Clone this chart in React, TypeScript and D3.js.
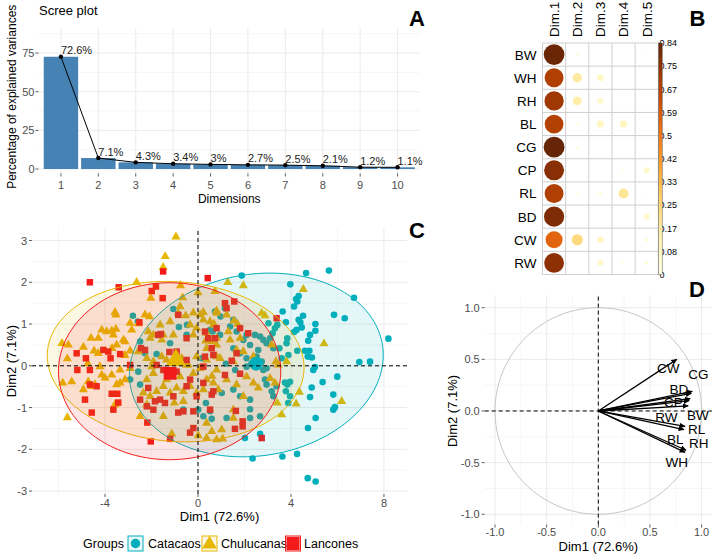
import React from 'react';
import * as d3 from 'd3';

const FONT = '"Liberation Sans", Arial, Helvetica, sans-serif';
const AXIS_TEXT = '#4D4D4D';
const TICK = '#333333';
const GRID_MAJOR = '#EBEBEB';
const GRID_MINOR = '#F4F4F4';

// ---------- Scree plot: explained variance per dimension ----------
const screeDims = [1, 2, 3, 4, 5, 6, 7, 8, 9, 10];
const screeValues = [72.6, 7.1, 4.3, 3.4, 3, 2.7, 2.5, 2.1, 1.2, 1.1];
const screeYTicks = [0, 25, 50, 75];
const screeYMinor = [12.5, 37.5, 62.5, 87.5];

// ---------- cos2 of variables on the first five dimensions ----------
const varNames = ['BW', 'WH', 'RH', 'BL', 'CG', 'CP', 'RL', 'BD', 'CW', 'RW'];
const dimNames = ['Dim.1', 'Dim.2', 'Dim.3', 'Dim.4', 'Dim.5'];
const cos2Dim1 = [0.83, 0.69, 0.72, 0.68, 0.84, 0.77, 0.69, 0.79, 0.56, 0.76];
const cos2Dim2 = [0.02, 0.17, 0.15, 0.012, 0.02, 0.006, 0.01, 0.006, 0.24, 0.004];
const cos2Dim3 = [0.004, 0.085, 0.07, 0.095, 0, 0.002, 0.025, 0.003, 0.085, 0.07];
const cos2Dim4 = [0, 0, 0.003, 0.1, 0, 0.015, 0.19, 0.004, 0, 0.015];
const cos2Dim5 = [0.008, 0, 0.006, 0.006, 0.005, 0.07, 0.008, 0.07, 0.03, 0.03];
const cos2Max = 0.84;
const cos2LegendValues = [0, 0.084, 0.168, 0.252, 0.336, 0.42, 0.504, 0.588, 0.672, 0.756, 0.84];
const cos2LegendLabels = ['0', '0.08', '0.17', '0.25', '0.33', '0.42', '0.5', '0.59', '0.67', '0.75', '0.84'];

// ---------- Individuals on Dim1 / Dim2 ----------
type Pt = [number, number];
const groupNames = ['Catacaos', 'Chulucanas', 'Lancones'];
const groupColors = ['#00AFBB', '#E7B800', '#F21A1A'];

const catacaosPts: Pt[] = [
  [-2.8, 1.2], [-1.06, 1.36], [-0.82, 0.93], [-0.47, 0.98], [-2.59, 1.06], [-2.49, 0.58], [-2.28, 0.3],
  [-1.78, 0.28], [-1.2, 0.54], [-0.49, 0.74], [0.16, 0.18], [0.63, 0.82],
  [1.88, 2.16], [4.65, 2.22], [5.63, 2.28], [3.97, 1.95], [6.71, 1.63], [4.33, 1.67], [4.22, 1.6],
  [4.13, 1.42], [4.27, 1.54], [3.64, 1.3], [4.52, 1.2], [4.33, 1.1], [4.4, 1.04], [4.46, 0.92],
  [4.24, 0.86], [4.13, 0.81], [5.05, 1.0], [5.05, 0.84], [4.82, 0.74], [4.74, 0.6], [5.85, 1.22],
  [6.31, 1.14], [8.19, 0.65], [3.78, 1.04], [3.41, 0.98], [3.31, 0.9], [3.21, 0.78], [3.03, 1.02],
  [3.84, 0.66], [3.81, 0.54], [4.27, 0.36], [4.6, 0.36], [4.79, 0.36], [4.72, 0.22], [4.9, 0.2],
  [3.89, 0.26], [3.6, 0.18], [3.5, 0.42], [3.24, 0.42], [2.95, 0.54], [3.1, 0.66], [6.94, 0.09],
  [7.4, 0.1], [2.45, 0.74], [2.67, 0.7], [2.81, 0.62], [2.09, 0.74], [1.95, 0.62], [1.66, 0.82],
  [1.38, 0.94], [1.52, 1.1], [0.97, 1.18], [1.16, 1.38], [0.73, 1.3], [2.24, 0.5], [2.59, 0.38],
  [1.52, 0.42], [0.95, 0.74], [0.52, 0.86], [2.52, 0.22], [1.81, 0.3], [2.09, 0.18],
  [2.3, 0.05], [2.74, 0.1], [2.95, -0.06], [1.6, -0.1], [1.2, 0.05],
  [-0.63, -1.05], [0.01, -1.05], [0.34, -0.89], [0.52, -1.09], [0.59, -1.27], [-2.57, -0.14],
  [-2.92, -0.33], [-2.49, -0.45],
  [4.72, -2.69], [5.06, -2.77], [2.35, -2.22], [3.63, -2.17], [4.26, -2.11], [4.73, -1.49],
  [5.06, -1.25], [5.82, -1.05], [5.89, -0.99], [5.82, -0.69], [5.99, -0.26], [5.36, -0.39],
  [4.89, -0.52], [4.82, -0.75], [4.96, -0.1], [5.03, -0.03], [2.67, -1.63], [2.02, -1.73],
  [3.96, -0.73], [3.88, -0.89], [3.78, -0.61], [3.84, -0.45], [3.74, -0.4], [3.96, -0.38],
  [2.24, -0.81], [2.24, -1.04], [2.24, -1.25], [2.67, -1.21], [3.17, -0.61], [2.95, -0.45],
  [2.88, -0.33], [3.38, -0.49], [3.24, -0.73], [1.23, -1.25], [0.23, -1.21], [1.02, -0.65],
  [1.81, -0.73], [1.52, -0.57], [2.81, -0.1], [2.52, 0.02], [2.09, -0.02],
];

const chulucanasPts: Pt[] = [
  [-0.95, 3.09], [-1.41, 2.62], [-1.5, 2.36], [-2.64, 2.0], [-0.75, 1.92], [0, 1.75], [0.73, 1.78],
  [-2.03, 1.62], [-0.66, 1.63], [-3.57, 1.28], [-3.53, 1.22], [-2.28, 1.22], [-2.09, 1.18],
  [-0.77, 1.42], [-0.85, 1.26], [-0.53, 1.2], [-0.2, 1.27], [0.23, 1.28], [-2.92, 1.02], [-2.57, 1.01],
  [-4.14, 0.86], [-3.71, 0.84], [-3.53, 0.88], [-4.6, 0.66], [-4.29, 0.66], [-5.85, 0.54], [-5.58, 0.5],
  [-5.62, 0.17], [-4.93, 0.45], [-4.47, 0.36], [-4.29, 0.3], [-3.7, 0.42], [-3.5, 0.5], [-3.14, 0.58],
  [-2.92, 0.36], [-2.57, 0.34], [-3.14, 0.25], [0.09, 1.22], [0.23, 1.1], [0.52, 1.06], [0.69, 1.0],
  [0.8, 1.26], [0.59, 0.58], [0.33, 0.6], [0.8, 0.5], [-0.2, 0.74], [-0.34, 0.98], [-0.06, 0.9],
  [-1.06, 0.74], [-1.2, 1.06], [-1.49, 0.74], [-1.56, 0.62], [-1.92, 0.74], [-2.06, 0.66], [-2.14, 0.82],
  [-1.63, 0.98], [-2.85, 0.86], [-3.21, 0.62], [-3.64, 0.74], [-3.93, 0.82],
  [-2.2, 0.18], [-1.92, 0.1], [-1.56, 0.22], [-1.35, 0.14], [-1.06, 0.06], [-0.7, 0.18], [-0.49, 0.02],
  [-0.06, 0.22], [0.37, 0.14], [0.8, 0.22],
  [1.28, 2.0], [1.95, 1.92], [4.53, 1.83], [2.74, 1.26], [2.88, 1.2], [5.42, 0.53], [0.8, 1.32],
  [1.23, 1.22], [1.55, 1.08], [1.7, 1.0], [0.66, 0.98], [1.3, 0.82], [0.37, 0.78], [1.81, 0.66],
  [1.38, 0.62], [0.8, 0.66], [1.95, 0.34], [1.66, 0.38], [0.37, 0.42], [0.95, 0.18], [1.52, 0.1],
  [2.38, 0.22], [3.17, 0.5], [3.35, 0.1], [3.81, 0.1],
  [-5.62, -1.24], [-5.82, -0.41], [-5.43, -0.38], [-4.93, -0.57], [-4.57, -0.49], [-4.43, -0.45],
  [-4.72, -0.38], [-3.57, -0.93], [-4.0, -0.29], [-3.71, -0.22], [-4.14, -0.22], [-3.35, -0.41],
  [-3.5, -0.45], [-3.14, -0.33], [-4.74, 0.05], [-4.22, -0.02], [-3.35, -0.1], [-2.92, -0.06],
  [-2.49, -1.21], [-2.2, -0.93], [-1.49, -1.21], [-1.13, -1.63], [-1.02, -0.89], [-0.63, -0.85],
  [0.01, -1.67], [0.37, -1.73], [0.59, -1.57], [0.8, -1.77], [-2.35, -0.65], [-2.06, -0.73],
  [-1.78, -0.61], [-1.49, -0.49], [-1.2, -0.65], [-0.92, -0.53], [-0.63, -0.61], [-0.34, -0.49],
  [-0.06, -0.65], [0.23, -0.57], [-2.2, -0.33], [-1.92, -0.18], [-1.35, -0.33], [-0.77, -0.26],
  [-0.2, -0.18], [0.37, -0.33], [0.66, -0.41], [0.8, -0.1], [-1.99, -0.02], [-0.42, 0.02], [0.09, -0.06],
  [6.18, -0.85], [4.36, -0.63], [4.22, -0.91], [3.6, -1.17], [3.41, -0.89], [3.31, -0.41], [3.1, -0.3],
  [2.59, -0.53], [2.38, -0.41], [2.09, -0.26], [1.95, -0.73], [1.52, -1.05], [1.52, -1.25],
  [1.02, -1.53], [1.06, -1.75], [0.37, -1.37], [0.87, -0.57], [0.6, -0.25], [1.23, -0.33],
  [1.66, -0.45], [3.45, 0.02],
];

const lanconesPts: Pt[] = [
  [-1.5, 2.26], [-4.65, 2.0], [-3.41, 1.88], [-1.81, 1.9], [-1.99, 1.79], [-1.52, 1.62], [0.42, 2.1],
  [-0.85, 1.22], [-2.52, 1.04], [-5.22, 0.3], [-4.82, 0.18], [-4.07, 0.38], [-3.86, 0.34], [-3.76, 0.18],
  [-3.35, 0.28], [-2.45, 0.42], [-1.71, 0.74], [-1.6, 0.76], [-2.28, 0.38], [-1.23, 0.33], [-0.92, 0.34],
  [-0.49, 0.66], [0.3, 0.82], [0.44, 0.66], [0.59, 0.42],
  [-1.78, 0.02], [-0.49, 0.14], [0.23, -0.02],
  [1.16, 1.5], [1.56, 1.54], [1.23, 1.38], [0.8, 0.9], [1.81, 0.9], [2.16, 0.78], [3.38, 1.14],
  [0.66, 0.26], [1.45, 0.12], [1.66, 0.3], [0.3, 0.22], [0.73, 0.66],
  [-4.57, -1.12], [-4.86, -0.81], [-5.19, -0.1], [-4.65, -0.45], [-4.36, -0.49], [-3.71, -0.67],
  [-3.47, -0.67], [-3.43, -0.88], [-3.64, -1.05], [-2.92, 0.02], [-4.65, -0.1], [-2.18, -1.36],
  [-2.03, -1.81], [-1.2, -1.75], [-0.2, -1.49], [-0.34, -1.6], [-0.85, -1.12], [-0.63, -1.09],
  [-0.2, -1.09], [-1.92, -1.05], [-2.2, -0.97], [-1.63, -0.81], [-2.49, -0.81], [-1.85, -0.85],
  [-1.42, -0.89], [-1.06, -0.73], [-0.49, -0.49], [-0.06, -0.73], [0.23, -0.41], [0.59, -0.69],
  [-1.49, -0.1], [-0.92, -0.14], [-0.34, -0.33], [-2.14, -0.53],
  [2.74, -1.73], [1.59, -1.51], [1.92, -1.45], [1.92, -1.33], [1.63, -1.08], [1.81, -0.19],
  [1.16, -0.22], [0.66, -0.61], [0.52, -1.05],
];

const groupPoints: Pt[][] = [catacaosPts, chulucanasPts, lanconesPts];
const groupMeans: Pt[] = [[2.5, 0.05], [-0.95, 0.14], [-1.2, -0.18]];
// 95% normal ellipses: centre and covariance-scaled extents (data units)
const groupEllipses = [
  { cx: 2.51, cy: 0.02, sxx: 29.8, syy: 4.84, sxy: 1.28 },
  { cx: -0.96, cy: 0.1, sxx: 30.5, syy: 3.69, sxy: -0.8 },
  { cx: -1.22, cy: -0.13, sxx: 22.85, syy: 4.49, sxy: 0 },
];
const indXTicks = [-4, 0, 4, 8];
const indXMinor = [-6, -2, 2, 6];
const indYTicks = [-3, -2, -1, 0, 1, 2, 3];
const indYMinor = [-2.5, -1.5, -0.5, 0.5, 1.5, 2.5];

// ---------- Variables: correlation circle ----------
const varDim1 = [0.87, 0.84, 0.85, 0.83, 0.91, 0.89, 0.84, 0.9, 0.76, 0.88];
const varDim2 = [0.05, -0.4, -0.38, -0.18, 0.19, 0.12, -0.15, 0.17, 0.5, 0.1];
const varLabelX = [0.965, 0.759, 0.972, 0.745, 0.97, 0.726, 0.952, 0.78, 0.677, 0.66];
const varLabelY = [-0.042, -0.494, -0.31, -0.275, 0.36, 0.087, -0.173, 0.215, 0.415, -0.058];
const varTicks = [-1, -0.5, 0, 0.5, 1];
const varMinor = [-0.75, -0.25, 0.25, 0.75];

function ScreePanel() {
  const x = d3.scaleLinear().domain([0.4, 10.6]).range([38.5, 420]);
  const y = d3.scaleLinear().domain([-2.9, 91.2]).range([173.5, 28]);
  const [x0, x1] = x.range();
  const [yb, yt] = y.range();
  const halfBar = (x(1.46) - x(0.54)) / 2;
  const line = d3.line<number>().x((_, i) => x(screeDims[i])).y((v) => y(v));
  return (
    <g>
      {screeYMinor.map((v) => (
        <line key={'mn' + v} x1={x0} x2={x1} y1={y(v)} y2={y(v)} stroke={GRID_MINOR} strokeWidth={0.8} />
      ))}
      {screeYTicks.map((v) => (
        <line key={'mj' + v} x1={x0} x2={x1} y1={y(v)} y2={y(v)} stroke={GRID_MAJOR} strokeWidth={1} />
      ))}
      {screeDims.map((d) => (
        <line key={'vx' + d} x1={x(d)} x2={x(d)} y1={yb} y2={yt} stroke={GRID_MAJOR} strokeWidth={1} />
      ))}
      {screeDims.map((d, i) => (
        <rect key={'b' + d} x={x(d) - halfBar} y={y(screeValues[i])} width={halfBar * 2}
          height={y(0) - y(screeValues[i])} fill="#4682B4" />
      ))}
      <path d={line(screeValues) || ''} fill="none" stroke="#000" strokeWidth={1} />
      {screeDims.map((d, i) => (
        <circle key={'p' + d} cx={x(d)} cy={y(screeValues[i])} r={2.2} fill="#000" />
      ))}
      {screeDims.map((d, i) => (
        <text key={'l' + d} x={x(d)} y={y(screeValues[i]) - 2.5} fontSize={11} fill="#1a1a1a">
          {screeValues[i] + '%'}
        </text>
      ))}
      {screeYTicks.map((v) => (
        <g key={'yt' + v}>
          <line x1={x0 - 3} x2={x0} y1={y(v)} y2={y(v)} stroke={TICK} strokeWidth={0.8} />
          <text x={x0 - 4} y={y(v) + 4} fontSize={11} textAnchor="end" fill={AXIS_TEXT}>{v}</text>
        </g>
      ))}
      {screeDims.map((d) => (
        <g key={'xt' + d}>
          <line x1={x(d)} x2={x(d)} y1={yb} y2={yb + 3} stroke={TICK} strokeWidth={0.8} />
          <text x={x(d)} y={yb + 15} fontSize={11} textAnchor="middle" fill={AXIS_TEXT}>{d}</text>
        </g>
      ))}
      <text x={(x0 + x1) / 2} y={203} fontSize={12} textAnchor="middle" fill="#000">Dimensions</text>
      <text transform={`translate(16, ${(yb + 10) / 2 + 5}) rotate(-90)`} fontSize={12} textAnchor="middle" fill="#000">
        Percentage of explained variances
      </text>
      <text x={39} y={15} fontSize={13} fill="#000">Scree plot</text>
    </g>
  );
}

function Cos2Panel() {
  const cols = d3.scaleBand<string>().domain(dimNames).range([542.5, 658.3]);
  const rows = d3.scaleBand<string>().domain(varNames).range([43, 274.5]);
  const cell = cols.bandwidth();
  const color = d3.scaleSequential(d3.interpolateYlOrBr).domain([0, cos2Max]);
  const radius = (v: number) => 0.45 * cell * Math.sqrt(Math.max(0, v) / cos2Max);
  const matrix = [cos2Dim1, cos2Dim2, cos2Dim3, cos2Dim4, cos2Dim5];
  const legendY = d3.scaleLinear().domain([0, cos2Max]).range([274.5, 43]);
  const stops = d3.range(0, 1.0001, 0.05);
  const [gx0, gx1] = cols.range();
  const [gy0, gy1] = rows.range();
  return (
    <g>
      <defs>
        <linearGradient id="cos2Grad" x1="0" y1="1" x2="0" y2="0">
          {stops.map((t) => (
            <stop key={t} offset={t} stopColor={color(t * cos2Max)} />
          ))}
        </linearGradient>
      </defs>
      {dimNames.map((d) => (
        <line key={'cv' + d} x1={cols(d)} x2={cols(d)} y1={gy0} y2={gy1} stroke="#CFCFCF" strokeWidth={1} />
      ))}
      <line x1={gx1} x2={gx1} y1={gy0} y2={gy1} stroke="#CFCFCF" strokeWidth={1} />
      {varNames.map((v) => (
        <line key={'rh' + v} x1={gx0} x2={gx1} y1={rows(v)} y2={rows(v)} stroke="#CFCFCF" strokeWidth={1} />
      ))}
      <line x1={gx0} x2={gx1} y1={gy1} y2={gy1} stroke="#CFCFCF" strokeWidth={1} />
      {matrix.map((colVals, j) =>
        colVals.map((v, i) => (
          <circle key={j + '-' + i} cx={(cols(dimNames[j]) || 0) + cell / 2}
            cy={(rows(varNames[i]) || 0) + rows.bandwidth() / 2} r={radius(v)} fill={color(v)} />
        ))
      )}
      {varNames.map((v) => (
        <text key={'rl' + v} x={gx0 - 6} y={(rows(v) || 0) + rows.bandwidth() / 2 + 5}
          fontSize={13.5} textAnchor="end" fill="#000">{v}</text>
      ))}
      {dimNames.map((d) => (
        <text key={'cl' + d} transform={`translate(${(cols(d) || 0) + cell / 2}, 37) rotate(-90)`}
          dy="0.36em" fontSize={13.5} fill="#000">{d}</text>
      ))}
      {cos2LegendValues.map((v, i) => (
        <text key={'lg' + i} x={659.5} y={legendY(v) + 3.3} fontSize={9} fill="#000">{cos2LegendLabels[i]}</text>
      ))}
      <rect x={658.6} y={legendY(cos2Max)} width={3.6} height={legendY(0) - legendY(cos2Max)}
        fill="url(#cos2Grad)" stroke="#555" strokeWidth={0.5} />
    </g>
  );
}

function symbolPath(shape: number, size: number) {
  const type = shape === 0 ? d3.symbolCircle : shape === 1 ? d3.symbolTriangle : d3.symbolSquare;
  return d3.symbol().type(type).size(size)() || '';
}

function IndPanel() {
  const x = d3.scaleLinear().domain([-7.14, 8.99]).range([32, 407]);
  const y = d3.scaleLinear().domain([-3.07, 3.3]).range([494, 228]);
  const [x0, x1] = x.range();
  const [yb, yt] = y.range();
  const pointSizes = [34, 36, 42];
  const meanSizes = [150, 170, 165];
  const ellipsePath = (e: { cx: number; cy: number; sxx: number; syy: number; sxy: number }) => {
    const l11 = Math.sqrt(e.sxx);
    const l21 = e.sxy / l11;
    const l22 = Math.sqrt(e.syy - l21 * l21);
    const ts = d3.range(0, 2 * Math.PI, Math.PI / 90);
    const pts: Pt[] = ts.map((t) => [e.cx + l11 * Math.cos(t), e.cy + l21 * Math.cos(t) + l22 * Math.sin(t)]);
    return d3.line<Pt>().x((p) => x(p[0])).y((p) => y(p[1])).curve(d3.curveLinearClosed)(pts) || '';
  };
  const drawOrder = [0, 1, 2];
  const legendItems = [
    { keyX: 128, textX: 148 },
    { keyX: 202, textX: 221 },
    { keyX: 285.5, textX: 304 },
  ];
  return (
    <g>
      <defs>
        <clipPath id="indClip">
          <rect x={x0} y={yt} width={x1 - x0} height={yb - yt} />
        </clipPath>
      </defs>
      {indYMinor.map((v) => (
        <line key={'ym' + v} x1={x0} x2={x1} y1={y(v)} y2={y(v)} stroke={GRID_MINOR} strokeWidth={0.8} />
      ))}
      {indXMinor.map((v) => (
        <line key={'xm' + v} x1={x(v)} x2={x(v)} y1={yb} y2={yt} stroke={GRID_MINOR} strokeWidth={0.8} />
      ))}
      {indYTicks.map((v) => (
        <line key={'yj' + v} x1={x0} x2={x1} y1={y(v)} y2={y(v)} stroke={GRID_MAJOR} strokeWidth={1} />
      ))}
      {indXTicks.map((v) => (
        <line key={'xj' + v} x1={x(v)} x2={x(v)} y1={yb} y2={yt} stroke={GRID_MAJOR} strokeWidth={1} />
      ))}
      <g clipPath="url(#indClip)">
        {drawOrder.map((g) =>
          groupPoints[g].map((p, i) => (
            <path key={g + '-' + i} d={symbolPath(g, pointSizes[g])}
              transform={`translate(${x(p[0])},${y(p[1])})`} fill={groupColors[g]} />
          ))
        )}
        {groupEllipses.map((e, g) => (
          <path key={'e' + g} d={ellipsePath(e)} fill={groupColors[g]} fillOpacity={0.11}
            stroke={groupColors[g]} strokeWidth={1} />
        ))}
        {groupMeans.map((p, g) => (
          <path key={'mean' + g} d={symbolPath(g, meanSizes[g])}
            transform={`translate(${x(p[0])},${y(p[1])})`} fill={groupColors[g]} />
        ))}
        <line x1={x0} x2={x1} y1={y(0)} y2={y(0)} stroke="#000" strokeWidth={1} strokeDasharray="4,3" />
        <line x1={x(0)} x2={x(0)} y1={yb} y2={yt} stroke="#000" strokeWidth={1} strokeDasharray="4,3" />
      </g>
      {indYTicks.map((v) => (
        <g key={'yt' + v}>
          <line x1={x0 - 3} x2={x0} y1={y(v)} y2={y(v)} stroke={TICK} strokeWidth={0.8} />
          <text x={x0 - 5} y={y(v) + 4} fontSize={11} textAnchor="end" fill={AXIS_TEXT}>{String(v)}</text>
        </g>
      ))}
      {indXTicks.map((v) => (
        <g key={'xt' + v}>
          <line x1={x(v)} x2={x(v)} y1={yb} y2={yb + 3} stroke={TICK} strokeWidth={0.8} />
          <text x={x(v)} y={yb + 13} fontSize={11} textAnchor="middle" fill={AXIS_TEXT}>{String(v)}</text>
        </g>
      ))}
      <text x={(x0 + x1) / 2} y={521} fontSize={13} textAnchor="middle" fill="#000">Dim1 (72.6%)</text>
      <text transform={`translate(16, ${(yb + yt) / 2}) rotate(-90)`} fontSize={13} textAnchor="middle" fill="#000">
        Dim2 (7.1%)
      </text>
      <text x={83} y={548} fontSize={12.5} fill="#000">Groups</text>
      {groupNames.map((name, g) => (
        <g key={'lg' + name}>
          <rect x={legendItems[g].keyX} y={536} width={15} height={15} fill={groupColors[g]} fillOpacity={0.1}
            stroke={groupColors[g]} strokeWidth={1} />
          <path d={symbolPath(g, [70, 95, 170][g])}
            transform={`translate(${legendItems[g].keyX + 7.5},${543.5 + (g === 1 ? 0.8 : 0)})`} fill={groupColors[g]} />
          <text x={legendItems[g].textX} y={548} fontSize={12.5} fill="#000">{name}</text>
        </g>
      ))}
    </g>
  );
}

function VarPanel() {
  const x = d3.scaleLinear().domain([-1.1, 1.1]).range([484.7, 711.9]);
  const y = d3.scaleLinear().domain([-1.1, 1.12]).range([524.6, 295.3]);
  const [x0, x1] = x.range();
  const [yb, yt] = y.range();
  const fmt = (v: number) => v.toFixed(1);
  const circle = d3.range(0, 2 * Math.PI + 0.01, Math.PI / 120).map((t) => [Math.cos(t), Math.sin(t)] as Pt);
  const circlePath = d3.line<Pt>().x((p) => x(p[0])).y((p) => y(p[1]))(circle) || '';
  return (
    <g>
      <defs>
        <marker id="varArrow" viewBox="0 0 10 10" refX="9" refY="5" markerWidth="6" markerHeight="6"
          markerUnits="userSpaceOnUse" orient="auto">
          <path d="M0,0.5 L10,5 L0,9.5 z" fill="#000" />
        </marker>
      </defs>
      {varMinor.map((v) => (
        <g key={'mn' + v}>
          <line x1={x0} x2={x1} y1={y(v)} y2={y(v)} stroke={GRID_MINOR} strokeWidth={0.8} />
          <line x1={x(v)} x2={x(v)} y1={yb} y2={yt} stroke={GRID_MINOR} strokeWidth={0.8} />
        </g>
      ))}
      {varTicks.map((v) => (
        <g key={'mj' + v}>
          <line x1={x0} x2={x1} y1={y(v)} y2={y(v)} stroke={GRID_MAJOR} strokeWidth={1} />
          <line x1={x(v)} x2={x(v)} y1={yb} y2={yt} stroke={GRID_MAJOR} strokeWidth={1} />
        </g>
      ))}
      <path d={circlePath} fill="none" stroke="#BEBEBE" strokeWidth={0.9} />
      <line x1={x0} x2={x1} y1={y(0)} y2={y(0)} stroke="#000" strokeWidth={1} strokeDasharray="4,3" />
      <line x1={x(0)} x2={x(0)} y1={yb} y2={yt} stroke="#000" strokeWidth={1} strokeDasharray="4,3" />
      {varNames.map((v, i) => (
        <line key={'a' + v} x1={x(0)} y1={y(0)} x2={x(varDim1[i])} y2={y(varDim2[i])}
          stroke="#000" strokeWidth={1.3} markerEnd="url(#varArrow)" />
      ))}
      {varNames.map((v, i) => (
        <text key={'t' + v} x={x(varLabelX[i])} y={y(varLabelY[i])} dy="0.36em" fontSize={13.5}
          textAnchor="middle" fill="#000">{v}</text>
      ))}
      {varTicks.map((v) => (
        <g key={'tk' + v}>
          <line x1={x0 - 3} x2={x0} y1={y(v)} y2={y(v)} stroke={TICK} strokeWidth={0.8} />
          <text x={x0 - 5} y={y(v) + 4} fontSize={11} textAnchor="end" fill={AXIS_TEXT}>{fmt(v)}</text>
          <line x1={x(v)} x2={x(v)} y1={yb} y2={yb + 3} stroke={TICK} strokeWidth={0.8} />
          <text x={x(v)} y={yb + 11.5} fontSize={11} textAnchor="middle" fill={AXIS_TEXT}>{fmt(v)}</text>
        </g>
      ))}
      <text x={x(0)} y={550.5} fontSize={13} textAnchor="middle" fill="#000">Dim1 (72.6%)</text>
      <text transform={`translate(457, ${y(0)}) rotate(-90)`} fontSize={13} textAnchor="middle" fill="#000">
        Dim2 (7.1%)
      </text>
    </g>
  );
}

const panelTags = [
  { tag: 'A', x: 417, y: 18 },
  { tag: 'B', x: 697.5, y: 18 },
  { tag: 'C', x: 417, y: 230 },
  { tag: 'D', x: 697, y: 289 },
];

export default function App() {
  return (
    <svg width={714} height={554} style={{ position: 'absolute', left: 0, top: 0, background: '#fff' }}
      fontFamily={FONT}>
      <ScreePanel />
      <Cos2Panel />
      <IndPanel />
      <VarPanel />
      {panelTags.map((p) => (
        <text key={p.tag} x={p.x} y={p.y} dy="0.36em" textAnchor="middle" fontSize={22} fontWeight="bold" fill="#000">
          {p.tag}
        </text>
      ))}
    </svg>
  );
}
